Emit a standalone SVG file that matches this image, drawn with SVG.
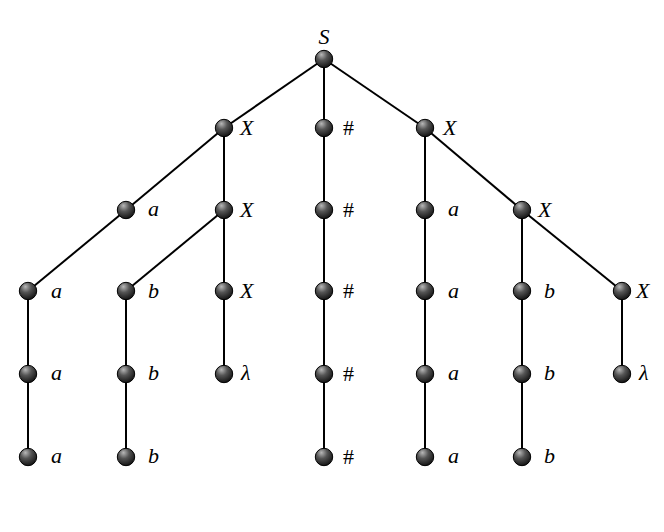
<svg xmlns="http://www.w3.org/2000/svg" width="664" height="532" viewBox="0 0 664 532">
<defs>
<radialGradient id="ball" cx="0.4" cy="0.3" r="0.7" fx="0.35" fy="0.25">
<stop offset="0" stop-color="#b8b8b8"/>
<stop offset="0.45" stop-color="#555"/>
<stop offset="1" stop-color="#151515"/>
</radialGradient>
<style>
.e{stroke:#000;stroke-width:2;fill:none}
.n{fill:url(#ball);stroke:#000;stroke-width:1}
.t{font-family:"Liberation Serif","DejaVu Serif",serif;font-style:italic;font-size:22px;fill:#000}
.h{font-style:normal}
</style>
</defs>
<rect width="664" height="532" fill="#fff"/>
<g id="connectors">
<line class="e" x1="324" y1="59" x2="224" y2="128"/>
<line class="e" x1="324" y1="59" x2="324" y2="128"/>
<line class="e" x1="324" y1="59" x2="425" y2="128"/>
<line class="e" x1="224" y1="128" x2="126" y2="210"/>
<line class="e" x1="126" y1="210" x2="28" y2="291"/>
<line class="e" x1="224" y1="128" x2="224" y2="210"/>
<line class="e" x1="224" y1="210" x2="126" y2="291"/>
<line class="e" x1="224" y1="210" x2="224" y2="291"/>
<line class="e" x1="224" y1="291" x2="224" y2="374"/>
<line class="e" x1="28" y1="291" x2="28" y2="457"/>
<line class="e" x1="126" y1="291" x2="126" y2="457"/>
<line class="e" x1="324" y1="128" x2="324" y2="457"/>
<line class="e" x1="425" y1="128" x2="425" y2="457"/>
<line class="e" x1="425" y1="128" x2="522" y2="210"/>
<line class="e" x1="522" y1="210" x2="522" y2="457"/>
<line class="e" x1="522" y1="210" x2="622" y2="291"/>
<line class="e" x1="622" y1="291" x2="622" y2="374"/>
</g>
<g id="n_S"><circle class="n" cx="324" cy="59" r="8.7"/><text class="t" x="324" y="44" text-anchor="middle">S</text></g>
<g id="n_X1"><circle class="n" cx="224" cy="128" r="8.7"/><text class="t" x="240" y="135">X</text></g>
<g id="n_H1"><circle class="n" cx="324" cy="128" r="8.7"/><text class="t h" x="343" y="135">#</text></g>
<g id="n_X2"><circle class="n" cx="425" cy="128" r="8.7"/><text class="t" x="443" y="135">X</text></g>
<g id="n_a21"><circle class="n" cx="126" cy="210" r="8.7"/><text class="t" x="148" y="216">a</text></g>
<g id="n_X21"><circle class="n" cx="224" cy="210" r="8.7"/><text class="t" x="240" y="217">X</text></g>
<g id="n_H2"><circle class="n" cx="324" cy="210" r="8.7"/><text class="t h" x="343" y="217">#</text></g>
<g id="n_a22"><circle class="n" cx="425" cy="210" r="8.7"/><text class="t" x="448" y="216">a</text></g>
<g id="n_X22"><circle class="n" cx="522" cy="210" r="8.7"/><text class="t" x="538" y="217">X</text></g>
<g id="n_a31"><circle class="n" cx="28" cy="291" r="8.7"/><text class="t" x="51" y="298">a</text></g>
<g id="n_b31"><circle class="n" cx="126" cy="291" r="8.7"/><text class="t" x="148" y="298">b</text></g>
<g id="n_X31"><circle class="n" cx="224" cy="291" r="8.7"/><text class="t" x="240" y="298">X</text></g>
<g id="n_H3"><circle class="n" cx="324" cy="291" r="8.7"/><text class="t h" x="343" y="298">#</text></g>
<g id="n_a32"><circle class="n" cx="425" cy="291" r="8.7"/><text class="t" x="448" y="298">a</text></g>
<g id="n_b32"><circle class="n" cx="522" cy="291" r="8.7"/><text class="t" x="544" y="298">b</text></g>
<g id="n_X32"><circle class="n" cx="622" cy="291" r="8.7"/><text class="t" x="636" y="298">X</text></g>
<g id="n_a41"><circle class="n" cx="28" cy="374" r="8.7"/><text class="t" x="51" y="380">a</text></g>
<g id="n_b41"><circle class="n" cx="126" cy="374" r="8.7"/><text class="t" x="148" y="380">b</text></g>
<g id="n_L1"><circle class="n" cx="224" cy="374" r="8.7"/><text class="t" x="241" y="380">λ</text></g>
<g id="n_H4"><circle class="n" cx="324" cy="374" r="8.7"/><text class="t h" x="343" y="381">#</text></g>
<g id="n_a42"><circle class="n" cx="425" cy="374" r="8.7"/><text class="t" x="448" y="380">a</text></g>
<g id="n_b42"><circle class="n" cx="522" cy="374" r="8.7"/><text class="t" x="544" y="380">b</text></g>
<g id="n_L2"><circle class="n" cx="622" cy="374" r="8.7"/><text class="t" x="639" y="380">λ</text></g>
<g id="n_a51"><circle class="n" cx="28" cy="457" r="8.7"/><text class="t" x="51" y="463">a</text></g>
<g id="n_b51"><circle class="n" cx="126" cy="457" r="8.7"/><text class="t" x="148" y="463">b</text></g>
<g id="n_H5"><circle class="n" cx="324" cy="457" r="8.7"/><text class="t h" x="343" y="464">#</text></g>
<g id="n_a52"><circle class="n" cx="425" cy="457" r="8.7"/><text class="t" x="448" y="463">a</text></g>
<g id="n_b52"><circle class="n" cx="522" cy="457" r="8.7"/><text class="t" x="544" y="463">b</text></g>
</svg>
